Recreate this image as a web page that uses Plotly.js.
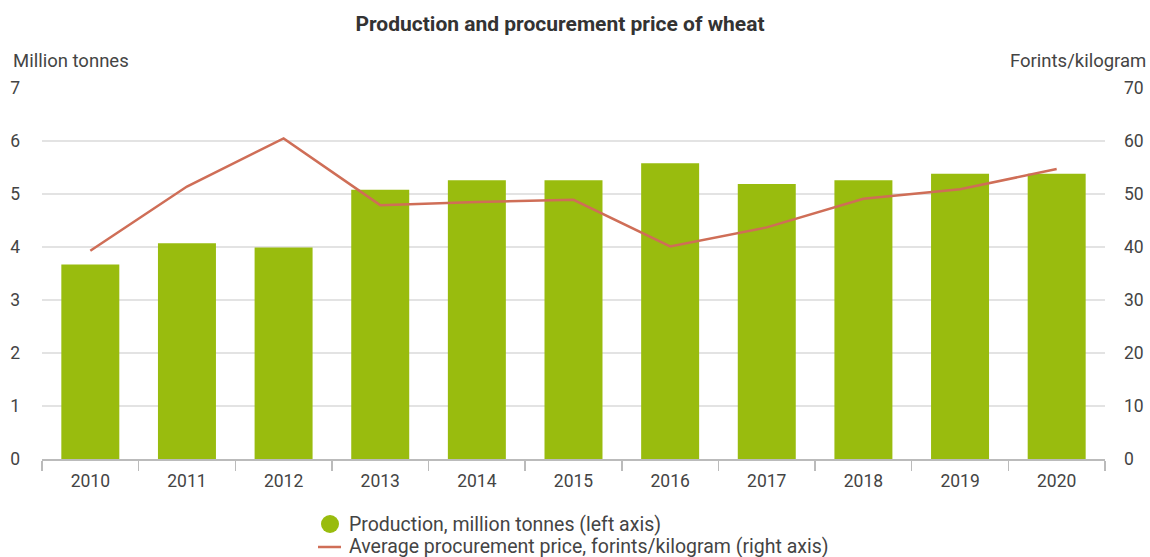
<!DOCTYPE html>
<html>
<head>
<meta charset="utf-8">
<script src="https://cdn.plot.ly/plotly-3.0.1.min.js"></script>
<style>html,body{margin:0;padding:0;background:#fff;}#chart{width:1150px;height:557px;}</style>
</head>
<body>
<div id="chart"></div>
<script>
const years = ['2010','2011','2012','2013','2014','2015','2016','2017','2018','2019','2020'];
const production = [3.67, 4.07, 3.99, 5.08, 5.26, 5.26, 5.58, 5.19, 5.26, 5.38, 5.38];
const price = [39.3, 51.4, 60.5, 47.9, 48.5, 48.9, 40.1, 43.7, 49.1, 50.9, 54.7];
const leftTicks = [0,1,2,3,4,5,6,7];
const rightTicks = [0,10,20,30,40,50,60,70];
const prodName = 'Production, million tonnes (left axis)';
const priceName = 'Average procurement price, forints/kilogram (right axis)';

const green = '#99bc0e';
const red = '#cf6e57';
const txt = '#444444';
const W = 1150, H = 557;
const cx = px => px / W;           // container x
const cy = py => 1 - py / H;       // container y

const traces = [
  {type:'bar', x:years, y:production, marker:{color:green}, showlegend:false, name:prodName},
  {type:'scatter', mode:'lines', x:years, y:price, yaxis:'y2', line:{color:red, width:2.5}, name:priceName, showlegend:false}
];

const layout = {
  width:W, height:H,
  margin:{l:42, r:45, t:88, b:98},
  paper_bgcolor:'#fff', plot_bgcolor:'#fff',
  font:{family:'Roboto, sans-serif', size:17, color:txt},
  title:{text:'<b>Production and procurement price of wheat</b>', font:{size:21, color:'#333'}, x:cx(560), xref:'container', xanchor:'center', y:cy(24), yref:'container', yanchor:'middle'},
  bargap:0.4,
  showlegend:false,
  xaxis:{type:'category', showline:true, linecolor:'#bbbbbb', linewidth:1.5, ticks:'outside', tickson:'boundaries', ticklen:10, tickcolor:'#bbbbbb', tickwidth:1.5, showgrid:false, tickfont:{size:17.5, color:txt}, tickangle:0, ticklabelstandoff:5, automargin:false},
  yaxis:{range:[0,7], tickvals:leftTicks, showgrid:true, gridcolor:'#e3e3e3', gridwidth:1.5, zeroline:false, showline:false, ticks:'', ticklabelstandoff:21, tickfont:{size:17.5, color:txt}, automargin:false},
  yaxis2:{range:[0,70], tickvals:rightTicks, overlaying:'y', side:'right', showgrid:false, zeroline:false, showline:false, ticks:'', ticklabelstandoff:18, tickfont:{size:17.5, color:txt}, automargin:false},
  annotations:[
    {text:'Million tonnes', xref:'paper', yref:'paper', x:(11-42)/1063, y:(459-61)/371, xanchor:'left', yanchor:'middle', showarrow:false, font:{size:18.5, color:txt}},
    {text:'Forints/kilogram', xref:'paper', yref:'paper', x:(1148-42)/1063, y:(459-61)/371, xanchor:'right', yanchor:'middle', showarrow:false, font:{size:18.5, color:txt}},
    {text:prodName, xref:'paper', yref:'paper', x:(347-42)/1063, y:(459-524)/371, xanchor:'left', yanchor:'middle', showarrow:false, font:{size:19.5, color:txt}},
    {text:priceName, xref:'paper', yref:'paper', x:(347-42)/1063, y:(459-546)/371, xanchor:'left', yanchor:'middle', showarrow:false, font:{size:19.5, color:txt}}
  ],
  shapes:[
    {type:'circle', xref:'paper', yref:'paper', x0:(321-42)/1063, x1:(339-42)/1063, y0:(459-515)/371, y1:(459-533)/371, fillcolor:green, line:{width:0}},
    {type:'line', xref:'paper', yref:'paper', x0:(318-42)/1063, x1:(341-42)/1063, y0:(459-547)/371, y1:(459-547)/371, line:{color:red, width:2.5}}
  ]
};

Plotly.newPlot('chart', traces, layout, {displayModeBar:false, staticPlot:true});
</script>
</body>
</html>
